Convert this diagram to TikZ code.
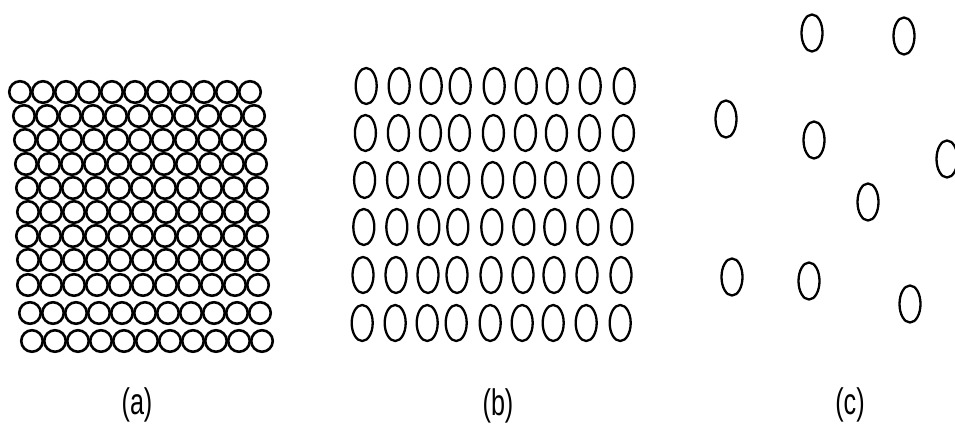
\documentclass[tikz,border=0pt]{standalone}
\usepackage{fontspec}
\setmainfont{Liberation Sans}
\usetikzlibrary{shapes.geometric}

\begin{document}
\begin{tikzpicture}[x=1pt, y=-1pt,
  packed/.style={draw, circle, line width=2.6pt, inner sep=0pt, minimum size=21.5pt},
  ordered/.style={draw, ellipse, line width=2.3pt, inner sep=0pt,
                  minimum width=21pt, minimum height=36pt},
  loose/.style={ordered, minimum height=37pt},
  caption/.style={font=\fontsize{37}{37}\selectfont, inner sep=0pt}]
  \useasboundingbox (0,0) rectangle (955,434);
  % (a) tightly packed
  \foreach \r/\y/\x in {1/92/20, 2/116/24, 3/140/25, 4/164/26, 5/188/27, 6/212/28,
                        7/236/27, 8/260/28, 9/285/28, 10/313/30, 11/341/32}
    \foreach \c in {0,...,10}
      \node[packed] (a-\r-\c) at (\x+23*\c, \y) {};
  % (b) regular rows
  \foreach \r/\y in {1/86, 2/133, 3/180, 4/227, 5/275, 6/323}
    \foreach \c/\x in {1/367, 2/400, 3/432, 4/461, 5/495, 6/527, 7/558, 8/591, 9/625}
      \node[ordered] (b-\r-\c) at (\x-0.8*\r, \y) {};
  % (c) scattered
  \foreach \n/\x/\y in {1/812/33, 2/904/36, 3/726/119, 4/814/140, 5/947/159,
                        6/868/202, 7/732/277, 8/809/281, 9/910/304}
    \node[loose] (c-\n) at (\x, \y) {};
  % captions
  \node[caption] (capa) at (137,405) {\scalebox{0.68}[1]{(a)}};
  \node[caption] (capb) at (498,406) {\scalebox{0.68}[1]{(b)}};
  \node[caption] (capc) at (850,405) {\scalebox{0.68}[1]{(c)}};
\end{tikzpicture}
\end{document}
